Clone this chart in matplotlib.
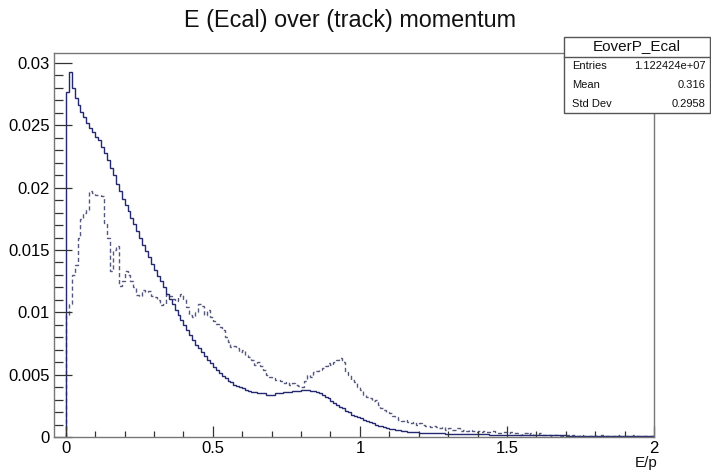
import matplotlib
matplotlib.use('Agg')
import matplotlib.pyplot as plt
import numpy as np
from matplotlib.ticker import MultipleLocator, FixedLocator
from matplotlib.patches import Rectangle
from matplotlib.lines import Line2D

plt.rcParams['font.family'] = ['Liberation Sans', 'DejaVu Sans']

# ---- data ----
bin_width = 0.01
x_start = 0.0
solid_vals = [
    0.0277, 0.0293, 0.0280, 0.0272, 0.0266, 0.0261, 0.0257, 0.0252, 0.0248, 0.0245,
    0.0241, 0.0238, 0.0233, 0.0228, 0.0222, 0.0216, 0.0210, 0.0203, 0.0197, 0.0191,
    0.0186, 0.0181, 0.0176, 0.0171, 0.0165, 0.0160, 0.0154, 0.0149, 0.0144, 0.0139,
    0.0134, 0.0129, 0.0125, 0.0120, 0.0115, 0.0111, 0.0107, 0.0102, 0.0098, 0.0094,
    0.0090, 0.0086, 0.0082, 0.0078, 0.0074, 0.0071, 0.0068, 0.0065, 0.0062, 0.0059,
    0.0056, 0.0054, 0.0051, 0.0049, 0.0047, 0.0045, 0.0044, 0.0042, 0.0041, 0.0040,
    0.0039, 0.0038, 0.0037, 0.0036, 0.0036, 0.0035, 0.0035, 0.0035, 0.0034, 0.0034,
    0.0034, 0.0035, 0.0035, 0.0035, 0.0036, 0.0036, 0.0036, 0.0037, 0.0037, 0.0037,
    0.0038, 0.0038, 0.0038, 0.0037, 0.0037, 0.0036, 0.0035, 0.0034, 0.0032, 0.0031,
    0.0029, 0.0027, 0.0026, 0.0024, 0.0023, 0.0021, 0.0020, 0.0018, 0.0017, 0.0016,
    0.0015, 0.0014, 0.0013, 0.0012, 0.0011, 0.0010, 0.0009, 0.0009, 0.0008, 0.0007,
    0.00068, 0.00062, 0.00058, 0.00054, 0.00050, 0.00047, 0.00044, 0.00042, 0.00040, 0.00038,
    0.00036, 0.00035, 0.00034, 0.00033, 0.00032, 0.00031, 0.00030, 0.00030, 0.00029, 0.00028,
    0.00028, 0.00027, 0.00027, 0.00026, 0.00025, 0.00025, 0.00024, 0.00024, 0.00023, 0.00023,
    0.00022, 0.00022, 0.00021, 0.00021, 0.00020, 0.00020, 0.00020, 0.00019, 0.00019, 0.00018,
    0.00018, 0.00018, 0.00017, 0.00017, 0.00017, 0.00016, 0.00016, 0.00016, 0.00015, 0.00015,
    0.00015, 0.00015, 0.00014, 0.00014, 0.00014, 0.00014, 0.00013, 0.00013, 0.00013, 0.00013,
    0.00012, 0.00012, 0.00012, 0.00012, 0.00012, 0.00011, 0.00011, 0.00011, 0.00011, 0.00011,
    0.00010, 0.00010, 0.00010, 0.00010, 0.00010, 0.00010, 0.00009, 0.00009, 0.00009, 0.00009,
    0.00009, 0.00009, 0.00008, 0.00008, 0.00008, 0.00008, 0.00008, 0.00008, 0.00007, 0.00007,
]
dashed_vals = [
    0.0098, 0.0107, 0.0130, 0.0138, 0.0160, 0.0175, 0.0180, 0.0182, 0.0197, 0.0196,
    0.0194, 0.0194, 0.0193, 0.0172, 0.0160, 0.0133, 0.0150, 0.0153, 0.0121, 0.0125,
    0.0133, 0.0130, 0.0125, 0.0120, 0.0114, 0.0113, 0.0118, 0.0116, 0.0117, 0.0113,
    0.0112, 0.0110, 0.0106, 0.0107, 0.0115, 0.0113, 0.0111, 0.0109, 0.0112, 0.0115,
    0.0111, 0.0104, 0.0098, 0.0096, 0.0100, 0.0107, 0.0105, 0.0098, 0.0102, 0.0096,
    0.0093, 0.0091, 0.0088, 0.0086, 0.0080, 0.0076, 0.0072, 0.0073, 0.0071, 0.0068,
    0.0070, 0.0066, 0.0064, 0.0062, 0.0058, 0.0060, 0.0057, 0.0054, 0.0050, 0.0048,
    0.0047, 0.0046, 0.0046, 0.0045, 0.0043, 0.0044, 0.0042, 0.0043, 0.0042, 0.0041,
    0.0040, 0.0045, 0.0050, 0.0048, 0.0052, 0.0053, 0.0054, 0.0055, 0.0057, 0.0059,
    0.0058, 0.0060, 0.0062, 0.0063, 0.0060, 0.0052, 0.0050, 0.0046, 0.0044, 0.0040,
    0.0038, 0.0034, 0.0032, 0.0031, 0.0029, 0.0030, 0.0026, 0.0023, 0.0022, 0.0020,
    0.0019, 0.0017, 0.0016, 0.0014, 0.0013, 0.0014, 0.0012, 0.0011, 0.0012, 0.0010,
    0.0011, 0.0010, 0.0009, 0.0009, 0.0008, 0.0009, 0.0008, 0.0007, 0.0008, 0.0006,
    0.0007, 0.0006, 0.0006, 0.0007, 0.0005, 0.0006, 0.0005, 0.0006, 0.0005, 0.0004,
    0.0005, 0.0004, 0.0005, 0.0004, 0.0004, 0.0005, 0.0004, 0.0003, 0.0004, 0.0004,
    0.0003, 0.0004, 0.0003, 0.0003, 0.0002, 0.0003, 0.0003, 0.0002, 0.0003, 0.0002,
    0.0002, 0.0003, 0.0002, 0.0002, 0.0002, 0.0001, 0.0002, 0.0002, 0.0001, 0.0002,
    0.0002, 0.0001, 0.0002, 0.0001, 0.0001, 0.0002, 0.0001, 0.0001, 0.0001, 0.0002,
    0.0001, 0.0001, 0.0002, 0.0001, 0.0001, 0.0001, 0.0001, 0.0002, 0.0001, 0.0001,
    0.0001, 0.0001, 0.0001, 0.0002, 0.0001, 0.0001, 0.0001, 0.0001, 0.0001, 0.0001,
]
x_ticks = [0, 0.5, 1, 1.5, 2]
x_tick_labels = ['0', '0.5', '1', '1.5', '2']
y_ticks = [0, 0.005, 0.01, 0.015, 0.02, 0.025, 0.03]
y_tick_labels = ['0', '0.005', '0.01', '0.015', '0.02', '0.025', '0.03']
title = 'E (Ecal) over (track) momentum'
x_label = 'E/p'
stats_name = 'EoverP_Ecal'
stats_rows = [('Entries', '1.122424e+07'), ('Mean', '0.316'), ('Std Dev', '0.2958')]

edges = x_start + bin_width * np.arange(len(solid_vals) + 1)

W, H = 711, 472
fig = plt.figure(figsize=(W / 100, H / 100), dpi=100)
fig.patch.set_facecolor('white')

ax = fig.add_axes([54 / W, 35 / H, 600 / W, 384 / H])
ax.stairs(dashed_vals, edges, baseline=0, color='#55587f', lw=1.0,
          linestyle=(0, (3, 2)))
ax.stairs(solid_vals, edges, baseline=0, color='#232870', lw=1.0)

ax.set_xlim(-0.04, 2.0)
ax.set_ylim(0, 0.0308)

ax.xaxis.set_major_locator(FixedLocator(x_ticks))
ax.set_xticklabels(x_tick_labels)
ax.xaxis.set_minor_locator(MultipleLocator(0.1))
ax.yaxis.set_major_locator(FixedLocator(y_ticks))
ax.set_yticklabels(y_tick_labels)
ax.yaxis.set_minor_locator(MultipleLocator(0.001))

ax.tick_params(axis='x', which='major', direction='in', length=8, width=0.9,
               color='#333333', labelsize=12, pad=3)
ax.tick_params(axis='x', which='minor', direction='in', length=4.5, width=0.9,
               color='#333333')
ax.tick_params(axis='y', which='major', direction='in', length=13, width=0.9,
               color='#333333', labelsize=12, pad=3)
ax.tick_params(axis='y', which='minor', direction='in', length=6.5, width=0.9,
               color='#333333')
ax.tick_params(top=False, right=False, which='both')
for s in ax.spines.values():
    s.set_color('#777777')
    s.set_linewidth(1.0)

fig.text(350 / W, 1 - 20 / H, title, ha='center', va='center', fontsize=16.8,
         color='#111111')
fig.text(658 / W, 1 - 470 / H, x_label, ha='right', va='bottom', fontsize=11,
         color='#111111')

# stats box
bx0, bx1, by0, by1 = 564, 710, 37, 113
sep = 57
fig.add_artist(Rectangle((bx0 / W, 1 - by1 / H), (bx1 - bx0) / W, (by1 - by0) / H,
                         transform=fig.transFigure, facecolor='white',
                         edgecolor='#555555', lw=1.0, zorder=5))
fig.add_artist(Line2D([bx0 / W, bx1 / W], [1 - sep / H, 1 - sep / H],
                      transform=fig.transFigure, color='#555555', lw=1.0, zorder=6))
fig.text((bx0 + bx1) / 2 / W, 1 - 46 / H, stats_name, ha='center', va='center',
         fontsize=11, color='#111111', zorder=7)
row_y = [66, 85, 104]
for (lab, val), yy in zip(stats_rows, row_y):
    fig.text((bx0 + 8) / W, 1 - yy / H, lab, ha='left', va='center', fontsize=8,
             color='#111111', zorder=7)
    fig.text((bx1 - 4) / W, 1 - yy / H, val, ha='right', va='center', fontsize=8,
             color='#111111', zorder=7)

fig.savefig('out.png', dpi=100)
